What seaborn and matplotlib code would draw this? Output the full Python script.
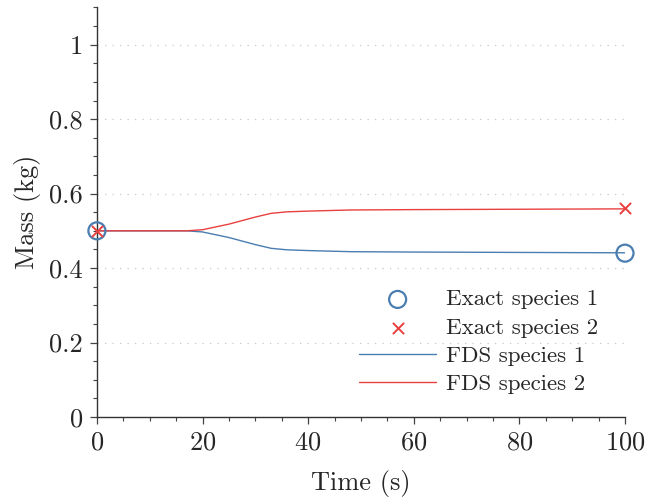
import numpy as np
import pandas as pd
import matplotlib
matplotlib.use("Agg")
import matplotlib.pyplot as plt
import seaborn as sns
from matplotlib.ticker import MultipleLocator

# Dados
tempo_exato = [0, 100]
massa_exata_1 = [0.5, 0.44]
massa_exata_2 = [0.5, 0.56]

tempo_fds = [0, 10, 17, 20, 25, 30, 33, 36, 40, 48, 60, 80, 100]
massa_fds_2 = [0.5, 0.5, 0.5, 0.503, 0.518, 0.537, 0.547, 0.551, 0.553, 0.556, 0.557, 0.558, 0.559]
massa_fds_1 = [0.5, 0.5, 0.5, 0.497, 0.482, 0.463, 0.453, 0.449, 0.447, 0.444, 0.443, 0.442, 0.441]

azul = '#4a7db0'
vermelho = '#e8403f'

sns.set_style("ticks")
plt.rcParams['font.family'] = 'serif'
plt.rcParams['font.serif'] = ['cmr10', 'DejaVu Serif']
plt.rcParams['mathtext.fontset'] = 'cm'
plt.rcParams['axes.formatter.use_mathtext'] = True

fig = plt.figure(figsize=(6.46, 4.97), dpi=100)
ax = fig.add_axes([0.150, 0.161, 0.8175, 0.824])

fds = pd.DataFrame({'t': tempo_fds, 'm1': massa_fds_1, 'm2': massa_fds_2})
exato = pd.DataFrame({'t': tempo_exato, 'm1': massa_exata_1, 'm2': massa_exata_2})

sns.lineplot(data=fds, x='t', y='m1', ax=ax, color=azul, lw=1.0, label='FDS species 1', zorder=3)
sns.lineplot(data=fds, x='t', y='m2', ax=ax, color=vermelho, lw=1.0, label='FDS species 2', zorder=3)
sns.scatterplot(data=exato, x='t', y='m1', ax=ax, marker='o', s=150, facecolor='none',
                edgecolor=azul, linewidth=1.6, label='Exact species 1', zorder=4, clip_on=False)
sns.scatterplot(data=exato, x='t', y='m2', ax=ax, marker='x', s=65, color=vermelho,
                linewidth=1.4, label='Exact species 2', zorder=5, clip_on=False)

ax.set_xlim(0, 100)
ax.set_ylim(0, 1.1)
ax.xaxis.set_major_locator(MultipleLocator(20))
ax.xaxis.set_minor_locator(MultipleLocator(5))
ax.yaxis.set_minor_locator(MultipleLocator(0.05))
ax.set_yticks([0, 0.2, 0.4, 0.6, 0.8, 1.0])
ax.set_yticklabels(['0', '0.2', '0.4', '0.6', '0.8', '1'])

ax.yaxis.grid(True, which='major', linestyle=(0, (1, 5)), color='#c8c8c8', lw=0.9)
ax.xaxis.grid(False)
sns.despine(ax=ax)
for s in ['left', 'bottom']:
    ax.spines[s].set_color('#333333')
    ax.spines[s].set_linewidth(1.0)
ax.tick_params(which='major', length=5, width=0.9, color='#444444', labelsize=19,
               direction='out', pad=5)
ax.tick_params(which='minor', length=3, width=0.8, color='#444444', direction='out')

ax.set_xlabel('Time (s)', fontsize=19, labelpad=11)
ax.set_ylabel('Mass (kg)', fontsize=19, labelpad=6)

handles, labels = ax.get_legend_handles_labels()
ordem = [labels.index(l) for l in ['Exact species 1', 'Exact species 2', 'FDS species 1', 'FDS species 2']]
ax.legend([handles[i] for i in ordem], [labels[i] for i in ordem], loc='lower right',
          frameon=False, fontsize=16.5, handlelength=3.36, handletextpad=0.45,
          labelspacing=0.36, bbox_to_anchor=(0.989, 0.005))

fig.savefig('out.png', dpi=100)
